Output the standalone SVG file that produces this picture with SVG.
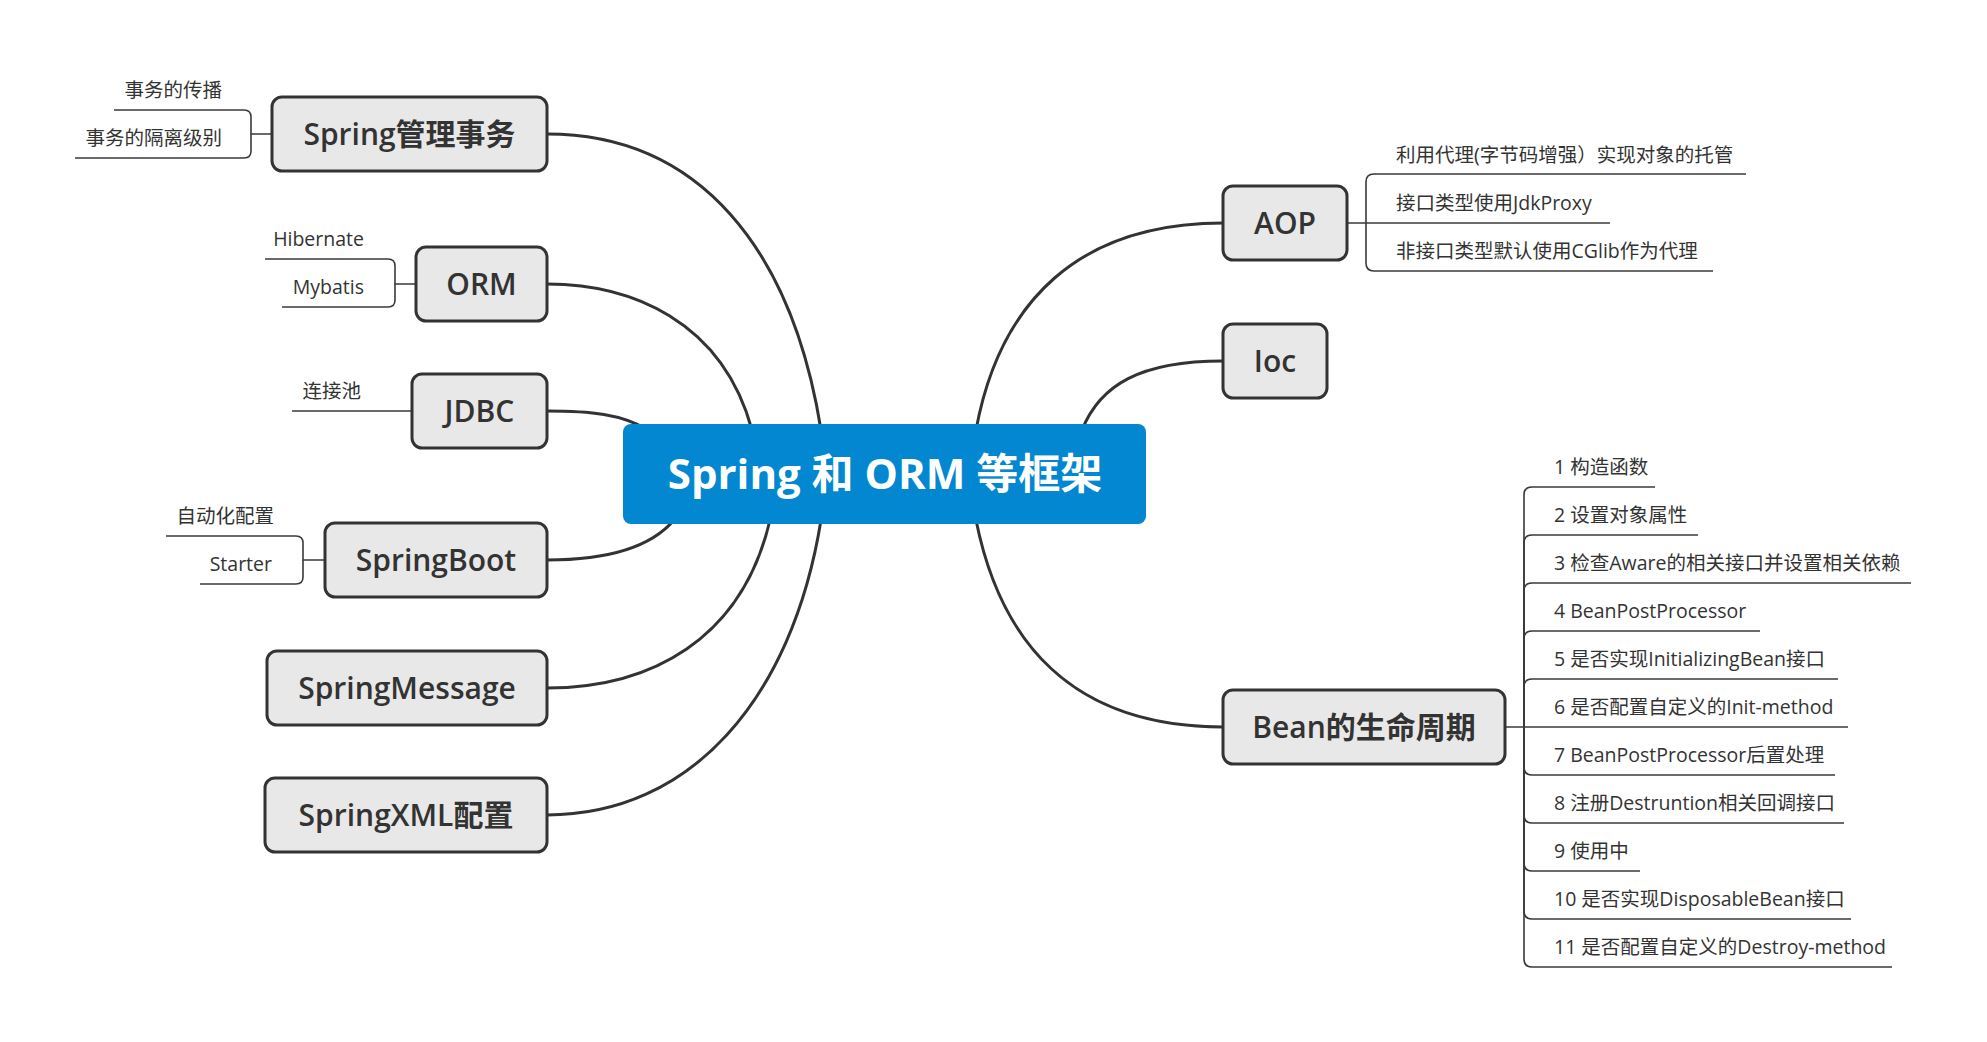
<svg xmlns="http://www.w3.org/2000/svg" width="1987" height="1042" viewBox="0 0 1987 1042">
<style>
.bg{fill:#ffffff}
.main{fill:none;stroke:#333333;stroke-width:3;stroke-linecap:round}
.sub{fill:none;stroke:#3a3a3a;stroke-width:1.6}
.box{fill:#e8e8e8;stroke:#333333;stroke-width:3}
.root{fill:#0287d0}
.nt{font-family:"Open Sans","Noto Sans CJK SC",sans-serif;font-size:30px;font-weight:600;fill:#333333;text-anchor:middle}
.cj{font-family:"Noto Sans CJK SC",sans-serif;font-weight:700}
.rt{font-family:"Open Sans","Noto Sans CJK SC",sans-serif;font-size:42px;font-weight:700;fill:#ffffff;text-anchor:middle}
.st{font-family:"Open Sans","Noto Sans CJK SC",sans-serif;font-size:19.5px;fill:#333333}
.l{text-anchor:end}
</style>
<rect class="bg" x="0" y="0" width="1987" height="1042"/>
<g id="connectors">
<path class="main" d="M547,134 C700,134 792,250 821,430"/>
<path class="main" d="M547,284 C630,284 722,320 752,430"/>
<path class="main" d="M547,411 C590,411 622,414 648,430"/>
<path class="main" d="M547,560 C610,560 652,546 674,520"/>
<path class="main" d="M547,688 C650,688 742,640 770,520"/>
<path class="main" d="M547,815 C690,815 792,700 821,520"/>
<path class="main" d="M1223,223 C1080,223 1000,300 976,430"/>
<path class="main" d="M1223,361 C1140,361 1100,385 1082,430"/>
<path class="main" d="M1223,727 C1070,727 1000,640 976,520"/>
<path class="sub" d="M272,134 H251 V117 Q251,110 244,110 H114"/>
<path class="sub" d="M251,134 V151 Q251,158 244,158 H75"/>
<path class="sub" d="M416,284 H395 V266 Q395,259 388,259 H265"/>
<path class="sub" d="M395,284 V300 Q395,307 388,307 H282"/>
<path class="sub" d="M412,411 H292"/>
<path class="sub" d="M325,560 H303 V543 Q303,536 296,536 H166"/>
<path class="sub" d="M303,560 V577 Q303,584 296,584 H200"/>
<path class="sub" d="M1347,223 H1366 V182 Q1366,174 1374,174 H1746"/>
<path class="sub" d="M1366,223 H1610"/>
<path class="sub" d="M1366,223 V263 Q1366,271 1374,271 H1713"/>
<path class="sub" d="M1505,727 H1524 V495 Q1524,487 1532,487 H1655"/>
<path class="sub" d="M1524,727 V543 Q1524,535 1532,535 H1698"/>
<path class="sub" d="M1524,727 V591 Q1524,583 1532,583 H1911"/>
<path class="sub" d="M1524,727 V639 Q1524,631 1532,631 H1760"/>
<path class="sub" d="M1524,727 V687 Q1524,679 1532,679 H1838"/>
<path class="sub" d="M1524,727 H1848"/>
<path class="sub" d="M1524,727 V767 Q1524,775 1532,775 H1835"/>
<path class="sub" d="M1524,727 V815 Q1524,823 1532,823 H1844"/>
<path class="sub" d="M1524,727 V863 Q1524,871 1532,871 H1640"/>
<path class="sub" d="M1524,727 V911 Q1524,919 1532,919 H1851"/>
<path class="sub" d="M1524,727 V959 Q1524,967 1532,967 H1892"/>
</g>
<g id="root">
<rect class="root" x="623" y="424" width="523" height="100" rx="8"/>
<text class="rt" x="885" y="489">Spring 和 ORM 等框架</text>
</g>
<g id="node-tx">
<rect class="box" x="272" y="97" width="275" height="74" rx="10"/>
<text class="nt" x="409.5" y="145">Spring<tspan class="cj">管理事务</tspan></text>
</g>
<g id="node-orm">
<rect class="box" x="416" y="247" width="131" height="74" rx="10"/>
<text class="nt" x="481.5" y="295">ORM</text>
</g>
<g id="node-jdbc">
<rect class="box" x="412" y="374" width="135" height="74" rx="10"/>
<text class="nt" x="479.5" y="422">JDBC</text>
</g>
<g id="node-boot">
<rect class="box" x="325" y="523" width="222" height="74" rx="10"/>
<text class="nt" x="436" y="571">SpringBoot</text>
</g>
<g id="node-msg">
<rect class="box" x="267" y="651" width="280" height="74" rx="10"/>
<text class="nt" x="407" y="699">SpringMessage</text>
</g>
<g id="node-xml">
<rect class="box" x="265" y="778" width="282" height="74" rx="10"/>
<text class="nt" x="406" y="826">SpringXML<tspan class="cj">配置</tspan></text>
</g>
<g id="node-aop">
<rect class="box" x="1223" y="186" width="124" height="74" rx="10"/>
<text class="nt" x="1285" y="234">AOP</text>
</g>
<g id="node-ioc">
<rect class="box" x="1223" y="324" width="104" height="74" rx="10"/>
<text class="nt" x="1275" y="372">Ioc</text>
</g>
<g id="node-bean">
<rect class="box" x="1223" y="690" width="282" height="74" rx="10"/>
<text class="nt" x="1364" y="738">Bean<tspan class="cj">的生命周期</tspan></text>
</g>
<g id="sub-tx">
<text class="st l" x="222" y="97">事务的传播</text>
<text class="st l" x="222" y="145">事务的隔离级别</text>
</g>
<g id="sub-orm">
<text class="st l" x="364" y="246">Hibernate</text>
<text class="st l" x="364" y="294">Mybatis</text>
</g>
<g id="sub-jdbc">
<text class="st l" x="361" y="398">连接池</text>
</g>
<g id="sub-boot">
<text class="st l" x="274" y="523">自动化配置</text>
<text class="st l" x="272" y="571">Starter</text>
</g>
<g id="sub-aop">
<text class="st" x="1396" y="162">利用代理(字节码增强）实现对象的托管</text>
<text class="st" x="1396" y="210">接口类型使用JdkProxy</text>
<text class="st" x="1396" y="258">非接口类型默认使用CGlib作为代理</text>
</g>
<g id="sub-bean">
<text class="st" x="1554" y="474">1 构造函数</text>
<text class="st" x="1554" y="522">2 设置对象属性</text>
<text class="st" x="1554" y="570">3 检查Aware的相关接口并设置相关依赖</text>
<text class="st" x="1554" y="618">4 BeanPostProcessor</text>
<text class="st" x="1554" y="666">5 是否实现InitializingBean接口</text>
<text class="st" x="1554" y="714">6 是否配置自定义的Init-method</text>
<text class="st" x="1554" y="762">7 BeanPostProcessor后置处理</text>
<text class="st" x="1554" y="810">8 注册Destruntion相关回调接口</text>
<text class="st" x="1554" y="858">9 使用中</text>
<text class="st" x="1554" y="906">10 是否实现DisposableBean接口</text>
<text class="st" x="1554" y="954">11 是否配置自定义的Destroy-method</text>
</g>
</svg>
